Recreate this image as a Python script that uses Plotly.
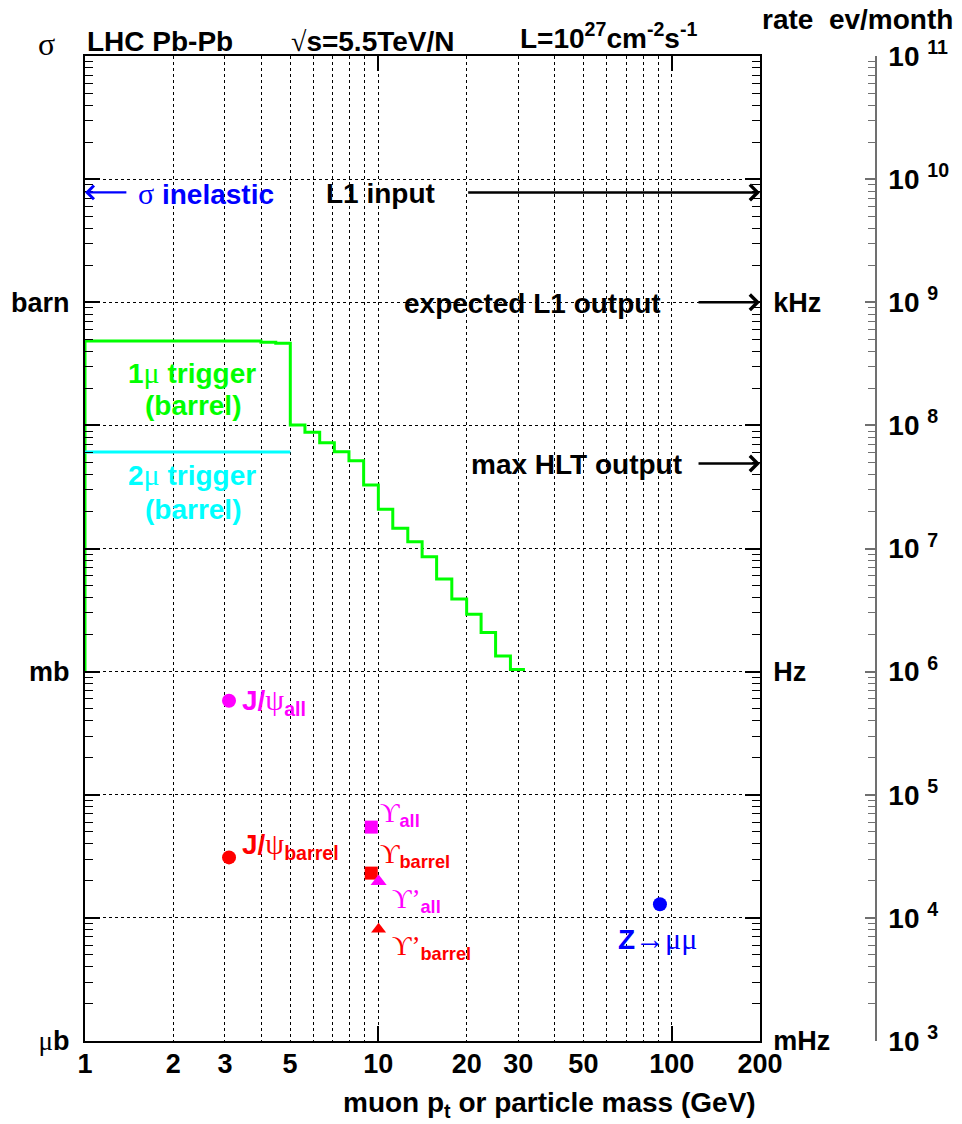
import math
import plotly.graph_objects as go

# ---------------- data (cross sections in barn, x in GeV) ----------------
trig1_edges = [1.0, 3.98, 4.47, 5.01, 5.62, 6.31, 7.08, 7.94, 8.91, 10.0, 11.2,
               12.6, 14.1, 15.8, 17.8, 20.0, 22.4, 25.1, 28.2, 31.6]
trig1_sigma = [0.485, 0.473, 0.465, 0.1007, 0.0879, 0.0723, 0.0611, 0.0517, 0.0328,
               0.0208, 0.0146, 0.01135, 0.00857, 0.00565, 0.00389, 0.00292, 0.00208,
               0.00134, 0.00104]
trig1_floor = 1e-3
trig2_edges = [1.0, 5.01]
trig2_sigma = [0.0607]

jpsi_mass = 3.097
ups_mass = 9.46
upsp_mass = 10.02
z_mass = 91.19
jpsi_all = 5.8e-4
jpsi_barrel = 3.1e-5
ups_all = 5.46e-5
ups_barrel = 2.31e-5
upsp_all = 1.97e-5
upsp_barrel = 8.1e-6
z_sigma = 1.29e-5

sigma_inel = 7.8      # barn -> L1 input
l1_output = 1.0       # barn (1 kHz)
hlt_output = 0.049    # barn (~50 Hz)

x_ticks = [1, 2, 3, 5, 10, 20, 30, 50, 100, 200]
x_grid = [2, 3, 4, 5, 6, 7, 8, 9, 10, 20, 30, 40, 50, 60, 70, 80, 90, 100]
y_decades = [1e-6, 1e-5, 1e-4, 1e-3, 1e-2, 1e-1, 1e0, 1e1, 1e2]
y_left_text = ['μb', '', '', 'mb', '', '', 'barn', '', '']
y_right_text = ['mHz', '', '', 'Hz', '', '', 'kHz', '', '']
ev_exponents = [3, 4, 5, 6, 7, 8, 9, 10, 11]

# ---------------- figure geometry ----------------
W, H = 962, 1124
ML, MR, MT, MB = 85, 86, 56, 83
PW, PH = W - ML - MR, H - MT - MB
XDOM = (760 - ML) / PW


def px(x):
    return (x - ML) / PW


def py(y):
    return (H - MB - y) / PH


SANS = "Liberation Sans, Arial, Helvetica, sans-serif"
SERIF = "Liberation Serif"
GREEN = "#00ff00"
CYAN = "#00ffff"
MAG = "#ff00ff"
RED = "#ff0000"
BLUE = "#0000ff"
FS = 28


def sym(s, size=None):
    st = "font-family:%s;font-weight:normal" % SERIF
    if size:
        st += ";font-size:%dpx" % size
    return '<span style="%s">%s</span>' % (st, s)


fig = go.Figure()

# step histogram of the 1-muon trigger
xs = [trig1_edges[0]] + trig1_edges
ys = [trig1_floor] + trig1_sigma + [trig1_sigma[-1]]
fig.add_trace(go.Scatter(x=xs, y=ys, mode='lines', line=dict(color=GREEN, width=3, shape='hv'),
                         showlegend=False, hoverinfo='skip'))
fig.add_trace(go.Scatter(x=trig2_edges, y=trig2_sigma + trig2_sigma, mode='lines',
                         line=dict(color=CYAN, width=3), showlegend=False, hoverinfo='skip'))

markers = [
    (jpsi_mass, jpsi_all, 'circle', MAG, 14),
    (jpsi_mass, jpsi_barrel, 'circle', RED, 14),
    (ups_mass, ups_all, 'square', MAG, 13),
    (ups_mass, ups_barrel, 'square', RED, 13),
    (upsp_mass, upsp_all, 'triangle-up', MAG, 14),
    (upsp_mass, upsp_barrel, 'triangle-up', RED, 13),
    (z_mass, z_sigma, 'circle', BLUE, 14),
]
for m, s, sy, c, sz in markers:
    fig.add_trace(go.Scatter(x=[m], y=[s], mode='markers',
                             marker=dict(symbol=sy, color=c, size=sz, line=dict(width=0)),
                             showlegend=False, hoverinfo='skip'))

# empty traces so the extra axes are drawn
fig.add_trace(go.Scatter(x=[], y=[], xaxis='x2', yaxis='y', showlegend=False))
fig.add_trace(go.Scatter(x=[], y=[], xaxis='x', yaxis='y2', showlegend=False))
fig.add_trace(go.Scatter(x=[], y=[], xaxis='x', yaxis='y3', showlegend=False))

minor_y = [k * d for d in y_decades[:-1] for k in range(2, 10)]
minor_ev = [k * 10 ** e for e in ev_exponents[:-1] for k in range(2, 10)]

fig.update_layout(
    width=W, height=H,
    margin=dict(l=ML, r=MR, t=MT, b=MB, pad=0, autoexpand=False),
    paper_bgcolor='white', plot_bgcolor='white',
    font=dict(family=SANS, size=FS, color='black', weight='bold'),
    xaxis=dict(type='log', range=[0, math.log10(200)], domain=[0, XDOM], automargin=False,
               tickmode='array', tickvals=x_ticks, ticktext=[str(v) for v in x_ticks],
               ticks='', showgrid=False, zeroline=False,
               showline=True, linecolor='black', linewidth=2, mirror=True,
               tickfont=dict(family=SANS, size=27, color='black', weight='bold'),
               ticklabelstandoff=-2,
               minor=dict(tickvals=x_grid, ticks='', showgrid=True, gridcolor='black',
                          griddash='dot', gridwidth=1)),
    xaxis2=dict(type='log', range=[0, math.log10(200)], domain=[0, XDOM], overlaying='x',
                anchor='y', side='bottom', tickmode='array', tickvals=[10, 100],
                ticks='inside', ticklen=15, tickwidth=1.5, tickcolor='black', automargin=False,
                showticklabels=False, showgrid=False, zeroline=False,
                showline=False, mirror='ticks'),
    yaxis=dict(type='log', range=[-6, 2], domain=[0, 1], anchor='x', automargin=False,
               tickmode='array', tickvals=y_decades,
               ticktext=[t.replace('μ', sym('μ')) for t in y_left_text],
               ticks='inside', ticklen=15, tickwidth=1.5, tickcolor='black',
               showgrid=True, gridcolor='black', griddash='dot', gridwidth=1,
               zeroline=False, showline=True, linecolor='black', linewidth=2,
               tickfont=dict(family=SANS, size=27, color='black', weight='bold'),
               ticklabelstandoff=8,
               minor=dict(tickvals=minor_y, ticks='inside', ticklen=8, tickcolor='black',
                          tickwidth=1, showgrid=False)),
    yaxis3=dict(type='log', range=[-6, 2], overlaying='y', anchor='x', side='right',
                automargin=False,
                tickmode='array', tickvals=y_decades, ticktext=y_right_text,
                ticks='inside', ticklen=15, tickwidth=1.5, tickcolor='black',
                showgrid=False, zeroline=False, showline=True, linecolor='black', linewidth=1.5,
                tickfont=dict(family=SANS, size=27, color='black', weight='bold'),
                ticklabelstandoff=6,
                minor=dict(tickvals=minor_y, ticks='inside', ticklen=8, tickcolor='black',
                           tickwidth=1, showgrid=False)),
    yaxis2=dict(type='log', range=[ev_exponents[0], ev_exponents[-1]], overlaying='y',
                anchor='free', position=1, side='right', automargin=False,
                tickmode='array', tickvals=[10 ** e for e in ev_exponents],
                ticktext=['10 <sup>%d</sup>' % e for e in ev_exponents],
                ticks='inside', ticklen=10, tickwidth=1.5, tickcolor='#707070',
                showgrid=False, zeroline=False, showline=True, linecolor='#707070', linewidth=1.5,
                tickfont=dict(family=SANS, size=28, color='black', weight='bold'),
                ticklabelstandoff=6,
                minor=dict(tickvals=minor_ev, ticks='inside', ticklen=7, tickcolor='#707070',
                           tickwidth=1, showgrid=False)),
)

ann = []


def text(t, x, y, color='black', xanchor='left', size=FS, yanchor='middle'):
    ann.append(dict(text=t, x=px(x), y=py(y), xref='paper', yref='paper',
                    xanchor=xanchor, yanchor=yanchor, showarrow=False,
                    font=dict(family=SANS, size=size, color=color, weight='bold')))


# header
text('LHC Pb-Pb', 85, 41)
text(sym('√') + 's=5.5TeV/N', 289, 41)
text('L=10<sup>27</sup>cm<sup>-2</sup>s<sup>-1</sup>', 518, 36)
text('rate  ev/month', 760, 19)
text(sym('σ', 32), 46, 44, xanchor='center')
# axis title
text('muon p<sub>t</sub> or particle mass (GeV)', 758, 1104, xanchor='right')

# trigger labels
text('1' + sym('μ', 30) + ' trigger', 192, 372, GREEN, 'center')
text('(barrel)', 193, 405, GREEN, 'center')
text('2' + sym('μ', 30) + ' trigger', 192, 474, CYAN, 'center')
text('(barrel)', 193, 509, CYAN, 'center')

# rate labels
text(sym('σ', 30) + ' inelastic', 136, 194, BLUE)
text('L1 input', 324, 194)
text('expected L1 output', 402, 303)
text('max HLT output', 469, 464)

# particle labels
text('J/' + sym('ψ', 30) + '<sub>all</sub>', 240, 702, MAG)
text('J/' + sym('ψ', 30) + '<sub>barrel</sub>', 240, 845, RED)
text(sym('ϒ', 27) + '<sub>all</sub>', 378, 814, MAG, size=26)
text(sym('ϒ', 27) + '<sub>barrel</sub>', 378, 855, RED, size=26)
text(sym('ϒ’', 27) + '<sub>all</sub>', 390, 900, MAG, size=26)
text(sym('ϒ’', 27) + '<sub>barrel</sub>', 390, 947, RED, size=26)
text('Z' + sym('→μμ', 30), 616, 938, BLUE)

# arrows (data coordinates, log axes use log10 values)
arrows = [
    (1.0, sigma_inel, 1.40, BLUE, 2.2),
    (200.0, sigma_inel, 20.0, 'black', 2.5),
    (200.0, l1_output, 122.0, 'black', 2.5),
    (200.0, hlt_output, 122.0, 'black', 2.5),
]
for xt, yv, xtail, c, w in arrows:
    ann.append(dict(x=math.log10(xt), y=math.log10(yv), ax=math.log10(xtail), ay=math.log10(yv),
                    xref='x', yref='y', axref='x', ayref='y', text='', showarrow=True,
                    arrowhead=4, arrowsize=1.2, arrowwidth=w, arrowcolor=c, standoff=0))

fig.update_layout(annotations=ann)
fig.write_html("out.html")
